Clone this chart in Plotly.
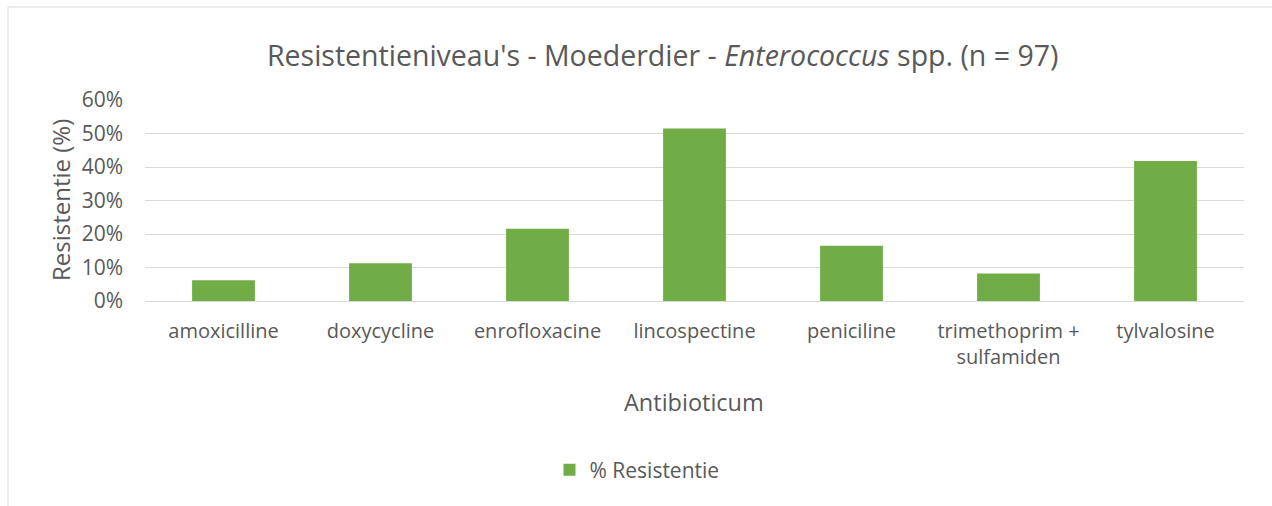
import plotly.graph_objects as go

categories = ["amoxicilline", "doxycycline", "enrofloxacine", "lincospectine",
              "peniciline", "trimethoprim +<br>sulfamiden", "tylvalosine"]
resistentie = [6.2, 11.3, 21.6, 51.5, 16.5, 8.2, 41.8]
y_ticks = [0, 10, 20, 30, 40, 50, 60]
y_ticktext = [f"{v}%" for v in y_ticks]

W, H = 1272, 506
L, R, T, B = 145, 28, 100, 205
pw, ph = W - L - R, H - T - B

def px(x):
    return (x - L) / pw

def py(y):
    return (H - B - y) / ph

FONT = "Open Sans"
GREY = "#595959"

fig = go.Figure()
fig.add_trace(go.Bar(
    x=categories, y=resistentie, name="% Resistentie",
    marker=dict(color="#70ad47", line=dict(width=0)),
    width=0.4,
))

fig.update_layout(
    width=W, height=H,
    margin=dict(l=L, r=R, t=T, b=B),
    paper_bgcolor="white", plot_bgcolor="white",
    font=dict(family=FONT, color=GREY),
    showlegend=True,
    legend=dict(orientation="h", x=px(637), y=py(470), xanchor="center", yanchor="middle",
                font=dict(size=21, color=GREY, family=FONT)),
    xaxis=dict(showgrid=False, showline=False, ticks="", tickfont=dict(size=20, color=GREY),
               fixedrange=True, ticklabelstandoff=16),
    yaxis=dict(range=[0, 60], tickvals=y_ticks, ticktext=y_ticktext, showgrid=True,
               gridcolor="#d9d9d9", gridwidth=1.3, zeroline=True, zerolinecolor="#d9d9d9",
               zerolinewidth=1.3, showline=False, ticks="", tickfont=dict(size=21, color=GREY),
               ticklabelstandoff=21, fixedrange=True),
    annotations=[
        dict(text="Resistentieniveau's - Moederdier - <i>Enterococcus</i> spp. (n = 97)",
             x=px(662), y=py(55), xref="paper", yref="paper", xanchor="center", yanchor="middle",
             showarrow=False, font=dict(size=28.5, color=GREY, family=FONT)),
        dict(text="Resistentie (%)", x=px(60), y=py(200), xref="paper", yref="paper",
             xanchor="center", yanchor="middle", textangle=-90, showarrow=False,
             font=dict(size=24, color=GREY, family=FONT)),
        dict(text="Antibioticum", x=px(694), y=py(402), xref="paper", yref="paper",
             xanchor="center", yanchor="middle", showarrow=False,
             font=dict(size=23.5, color=GREY, family=FONT)),
    ],
    shapes=[
        dict(type="rect", xref="paper", yref="paper", x0=px(8), x1=px(1300), y0=py(530), y1=py(7),
             line=dict(color="#d9d9d9", width=1), fillcolor="rgba(0,0,0,0)", layer="below"),
    ],
)

fig.write_html("out.html", config={"displayModeBar": False},
               post_script="document.body.style.margin='0';")
